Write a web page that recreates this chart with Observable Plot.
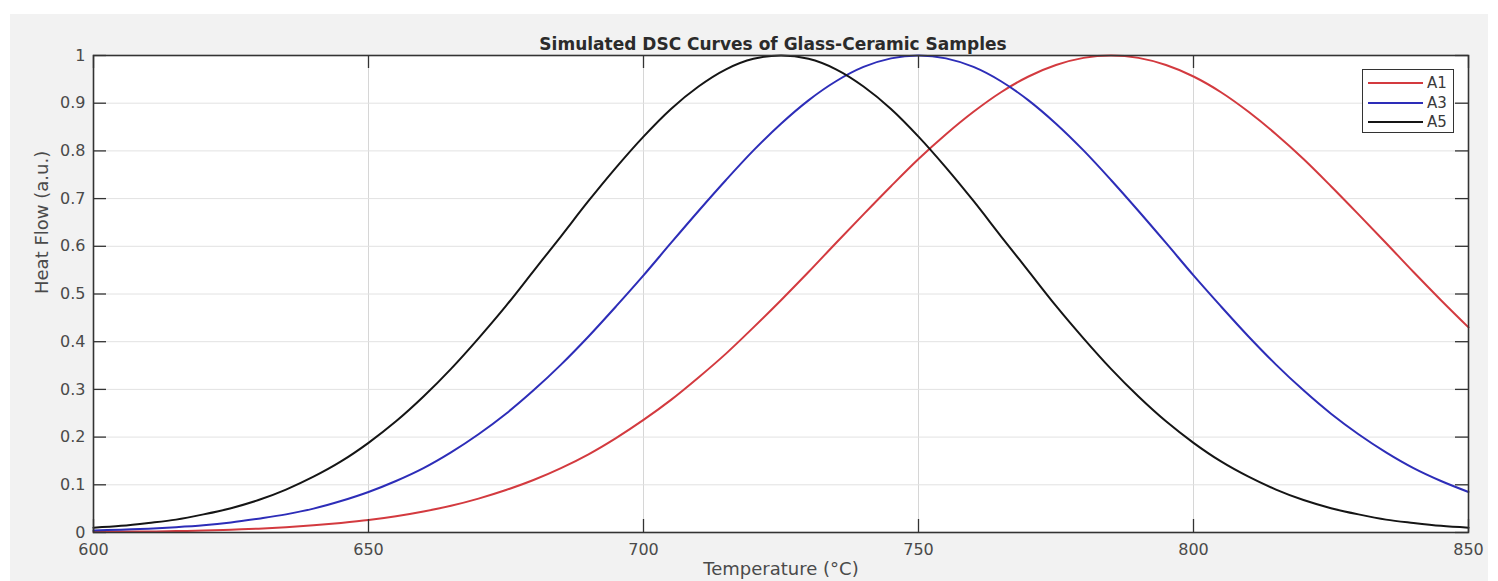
<!DOCTYPE html>
<html><head><meta charset="utf-8">
<script src="https://cdn.jsdelivr.net/npm/d3@7"></script>
<script src="https://cdn.jsdelivr.net/npm/@observablehq/plot@0.6"></script>
<style>
body{margin:0;background:#fff;}
#wrap{position:relative;width:1498px;height:581px;overflow:hidden;}
#bg{position:absolute;left:10px;top:14px;width:1478px;height:567px;background:#f2f2f2;}
#chart{position:absolute;left:0;top:0;}
#legend{position:absolute;left:1362px;top:69px;width:90px;height:62px;background:#fff;border:1.5px solid #333;font-family:"DejaVu Sans",sans-serif;font-size:15px;color:#3a3a3a;}
#legend .row{position:absolute;left:0;width:90px;height:20px;}
#legend .ln{position:absolute;left:5px;top:9px;width:55px;height:2px;}
#legend .lb{position:absolute;left:64px;top:0;line-height:20px;}
</style></head><body>
<div id="wrap"><div id="bg"></div><div id="chart"></div><div id="legend"></div></div>
<script>
const title = "Simulated DSC Curves of Glass-Ceramic Samples";
const xLabel = "Temperature (°C)";
const yLabel = "Heat Flow (a.u.)";
const seriesNames = ["A1", "A3", "A5"];
const seriesColors = ["#d33a3f", "#2d2db8", "#151515"];
const xTicks = [600, 650, 700, 750, 800, 850];
const yTicks = [0, 0.1, 0.2, 0.3, 0.4, 0.5, 0.6, 0.7, 0.8, 0.9, 1];
const yTickLabels = ["0", "0.1", "0.2", "0.3", "0.4", "0.5", "0.6", "0.7", "0.8", "0.9", "1"];

const temperature = [600,605,610,615,620,625,630,635,640,645,650,655,660,665,670,675,680,685,690,695,700,705,710,715,720,725,730,735,740,745,750,755,760,765,770,775,780,785,790,795,800,805,810,815,820,825,830,835,840,845,850];
const A1 = [0.001,0.002,0.002,0.003,0.004,0.006,0.008,0.011,0.015,0.020,0.026,0.034,0.044,0.056,0.071,0.089,0.110,0.135,0.164,0.198,0.236,0.278,0.325,0.375,0.430,0.487,0.546,0.607,0.667,0.726,0.783,0.835,0.882,0.923,0.956,0.980,0.995,1.000,0.995,0.980,0.956,0.923,0.882,0.835,0.783,0.726,0.667,0.607,0.546,0.487,0.430];
const A3 = [0.004,0.006,0.008,0.011,0.015,0.021,0.029,0.038,0.050,0.066,0.085,0.108,0.135,0.168,0.206,0.249,0.298,0.352,0.411,0.474,0.539,0.607,0.674,0.739,0.801,0.857,0.906,0.946,0.976,0.994,1.000,0.994,0.976,0.946,0.906,0.857,0.801,0.739,0.674,0.607,0.539,0.474,0.411,0.352,0.298,0.249,0.206,0.168,0.135,0.108,0.085];
const A5 = [0.010,0.014,0.020,0.027,0.038,0.051,0.068,0.090,0.117,0.149,0.188,0.233,0.285,0.343,0.407,0.475,0.548,0.621,0.695,0.765,0.830,0.888,0.935,0.971,0.993,1.000,0.993,0.971,0.935,0.888,0.830,0.765,0.695,0.621,0.548,0.475,0.407,0.343,0.285,0.233,0.188,0.149,0.117,0.090,0.068,0.051,0.038,0.027,0.020,0.014,0.010];

const seriesValues = [A1, A3, A5];
const rows = [];
seriesNames.forEach((s, k) => temperature.forEach((t, i) => rows.push({t, v: seriesValues[k][i], s})));

const W = 1498, H = 581, mL = 93, mR = 30, mT = 55, mB = 49;
const fw = W - mL - mR, fh = H - mT - mB, tick = 13;
const axisColor = "#333333", labelColor = "#4a4a4a";

const chart = Plot.plot({
  width: W, height: H,
  marginLeft: mL, marginRight: mR, marginTop: mT, marginBottom: mB,
  style: {background: "transparent", fontFamily: "'DejaVu Sans', sans-serif", fontSize: "16px", color: labelColor, overflow: "visible"},
  x: {domain: [600, 850]},
  y: {domain: [0, 1]},
  color: {domain: seriesNames, range: seriesColors},
  marks: [
    Plot.frame({fill: "white", stroke: null}),
    Plot.gridX(xTicks.slice(1, -1), {stroke: "#d6d6d6", strokeOpacity: 1}),
    Plot.gridY(yTicks.slice(1, -1), {stroke: "#e2e2e2", strokeOpacity: 1}),
    Plot.line(rows, {x: "t", y: "v", stroke: "s", strokeWidth: 2, curve: "monotone-x"}),
    Plot.ruleX(xTicks, {x: d => d, insetTop: fh - tick, stroke: axisColor, strokeWidth: 1.3}),
    Plot.ruleX(xTicks, {x: d => d, insetBottom: fh - tick, stroke: axisColor, strokeWidth: 1.3}),
    Plot.ruleY(yTicks, {y: d => d, insetRight: fw - tick, stroke: axisColor, strokeWidth: 1.3}),
    Plot.ruleY(yTicks, {y: d => d, insetLeft: fw - tick, stroke: axisColor, strokeWidth: 1.3}),
    Plot.frame({stroke: axisColor, strokeWidth: 1.6}),
    Plot.axisX(xTicks, {tickSize: 0, tickPadding: 11, label: null, fill: labelColor, fontSize: 16}),
    Plot.axisY(yTicks, {tickSize: 0, tickPadding: 8, label: null, fill: labelColor, fontSize: 16, tickFormat: d => yTickLabels[yTicks.indexOf(d)]}),
    Plot.text([title], {frameAnchor: "top", dx: -8, dy: -18, fontWeight: "bold", fill: "#2b2b2b", fontSize: 17}),
    Plot.text([xLabel], {frameAnchor: "bottom", dy: 42, fill: labelColor, fontSize: 18}),
    Plot.text([yLabel], {frameAnchor: "left", dx: -51, rotate: -90, fill: labelColor, fontSize: 18})
  ]
});
document.getElementById("chart").appendChild(chart);

const legend = document.getElementById("legend");
seriesNames.forEach((s, k) => {
  const row = document.createElement("div");
  row.className = "row";
  row.style.top = (3 + k * 19.5) + "px";
  const ln = document.createElement("div");
  ln.className = "ln";
  ln.style.background = seriesColors[k];
  const lb = document.createElement("div");
  lb.className = "lb";
  lb.textContent = s;
  row.appendChild(ln); row.appendChild(lb);
  legend.appendChild(row);
});
</script>
</body></html>
